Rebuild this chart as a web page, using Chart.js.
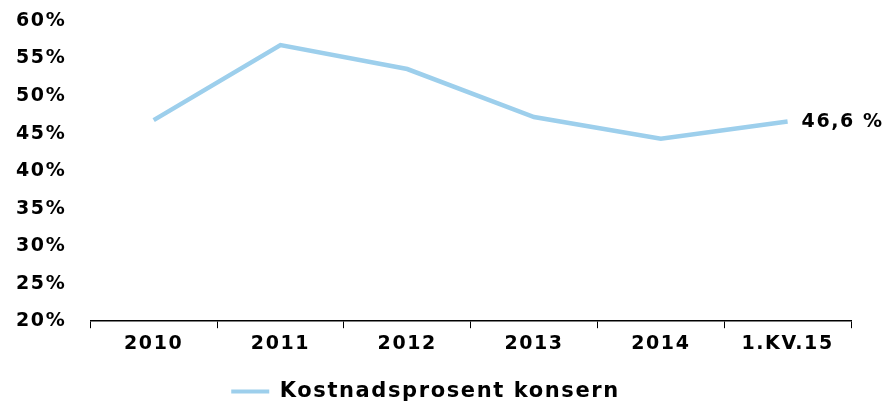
<!DOCTYPE html>
<html lang="no">
<head>
  <meta charset="UTF-8">
  <title>Kostnadsprosent konsern</title>
  <script src="https://cdn.jsdelivr.net/npm/chart.js"></script>
  <style>
    html, body { margin: 0; padding: 0; background: #fff; }
    #wrap { width: 892px; height: 402px; }
  </style>
</head>
<body>
  <div id="wrap"><canvas id="chart"></canvas></div>
  <script>
    // data
    const categories = ["2010", "2011", "2012", "2013", "2014", "1.KV.15"];
    const kostnadsprosent = [46.8, 56.8, 53.6, 47.2, 44.3, 46.6];
    const seriesName = "Kostnadsprosent konsern";
    const lastLabel = "46,6 %";

    const lineColor = "#9dcfec";
    const fontFamily = "'DejaVu Sans', Verdana, sans-serif";
    const letterGap = "1.6px";

    // wider letters like the original Verdana text
    const spacing = {
      id: "spacing",
      beforeLayout(chart) { chart.ctx.letterSpacing = letterGap; },
      beforeDraw(chart) { chart.ctx.letterSpacing = letterGap; }
    };

    // label next to the last point
    const endLabel = {
      id: "endLabel",
      afterDatasetsDraw(chart) {
        const meta = chart.getDatasetMeta(0);
        const pt = meta.data[meta.data.length - 1];
        const ctx = chart.ctx;
        ctx.save();
        ctx.letterSpacing = letterGap;
        ctx.font = "bold 19px " + fontFamily;
        ctx.fillStyle = "#000";
        ctx.textAlign = "left";
        ctx.textBaseline = "middle";
        ctx.fillText(lastLabel, pt.x + 14, pt.y);
        ctx.restore();
      }
    };

    new Chart(document.getElementById("chart"), {
      type: "line",
      data: {
        labels: categories,
        datasets: [{
          label: seriesName,
          data: kostnadsprosent,
          borderColor: lineColor,
          backgroundColor: lineColor,
          borderWidth: 4.5,
          pointRadius: 0,
          tension: 0,
          fill: false
        }]
      },
      options: {
        responsive: true,
        maintainAspectRatio: false,
        animation: false,
        layout: { padding: { left: 0, right: 41, top: 21, bottom: -10 } },
        plugins: {
          tooltip: { enabled: false },
          legend: {
            position: "bottom",
            labels: {
              color: "#000",
              font: { family: fontFamily, size: 21, weight: "bold" },
              boxWidth: 38,
              boxHeight: 4,
              padding: 6,
              generateLabels: (chart) => [{
                text: seriesName,
                fillStyle: lineColor,
                strokeStyle: lineColor,
                lineWidth: 0,
                datasetIndex: 0
              }]
            }
          }
        },
        scales: {
          x: {
            offset: true,
            grid: { offset: true, drawOnChartArea: false, drawTicks: true, tickLength: 7, color: "#000" },
            border: { display: true, color: "#000", width: 1.5 },
            ticks: {
              color: "#000",
              padding: 4,
              maxRotation: 0,
              font: { family: fontFamily, size: 19, weight: "bold" }
            },
            afterFit: (scale) => { scale.height += 16; }
          },
          y: {
            min: 20,
            max: 60,
            grid: { display: false },
            border: { display: false },
            ticks: {
              stepSize: 5,
              color: "#000",
              padding: 16,
              font: { family: fontFamily, size: 19, weight: "bold" },
              callback: (v) => v + "%"
            },
            afterFit: (scale) => { scale.paddingTop = 0; }
          }
        }
      },
      plugins: [spacing, endLabel]
    });
  </script>
</body>
</html>
